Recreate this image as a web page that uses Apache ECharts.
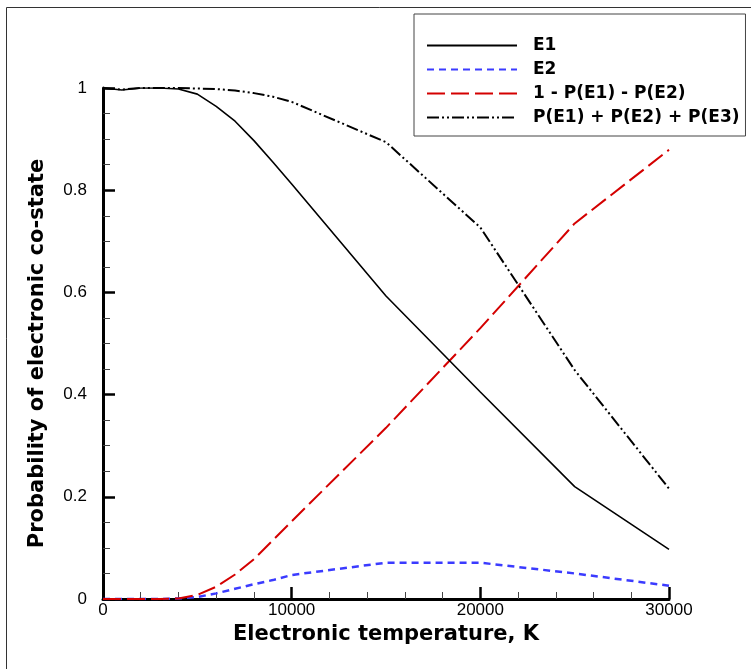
<!DOCTYPE html>
<html>
<head>
<meta charset="utf-8">
<script src="https://cdn.jsdelivr.net/npm/echarts@6/dist/echarts.min.js"></script>
<style>
html,body{margin:0;padding:0;background:#fff;}
#chart{width:751px;height:669px;}
</style>
</head>
<body>
<div id="chart"></div>
<script>
// Data
var temps = [0, 1000, 2000, 3000, 4000, 5000, 6000, 7000, 8000, 9000, 10000, 15000, 20000, 25000, 30000];
var e1 = [1.0, 0.996, 1.0, 1.0, 0.998, 0.988, 0.964, 0.935, 0.897, 0.855, 0.812, 0.593, 0.405, 0.22, 0.097];
var e2 = [0, 0, 0, 0, 0.001, 0.004, 0.011, 0.02, 0.029, 0.037, 0.047, 0.071, 0.071, 0.05, 0.026];
var rest = [0, 0, 0, 0, 0.001, 0.008, 0.024, 0.048, 0.078, 0.115, 0.152, 0.335, 0.53, 0.735, 0.879];
var sum3 = [1.0, 0.997, 1.0, 1.0, 1.0, 0.999, 0.998, 0.995, 0.99, 0.983, 0.973, 0.894, 0.727, 0.448, 0.216];
var seriesNames = ['E1', 'E2', '1 - P(E1) - P(E2)', 'P(E1) + P(E2) + P(E3)'];
var xTitle = 'Electronic temperature, K';
var yTitle = 'Probability of electronic co-state';

function pairs(ys) { return temps.map(function (t, i) { return [t, ys[i]]; }); }

var chart = echarts.init(document.getElementById('chart'));
var tickFont = 'Liberation Sans';
var boldFont = 'DejaVu Sans';

chart.setOption({
  animation: false,
  backgroundColor: '#fff',
  graphic: [{
    type: 'rect', z: -10, silent: true,
    shape: { x: 6.5, y: 7.5, width: 900, height: 900 },
    style: { fill: 'none', stroke: '#333', lineWidth: 1 }
  }],
  grid: { left: 103, top: 88, right: 82, bottom: 70, containLabel: false },
  legend: {
    orient: 'vertical', left: 414, top: 14,
    padding: [23, 6, 10, 12],
    itemWidth: 90, itemHeight: 14, itemGap: 7,
    borderColor: '#444', borderWidth: 1, backgroundColor: '#fff',
    itemStyle: { color: 'rgba(0,0,0,0)', borderWidth: 0, opacity: 0 },
    textStyle: { fontFamily: boldFont, fontWeight: 'bold', fontSize: 17, color: '#000', padding: [0, 0, 0, 11] },
    data: seriesNames
  },
  xAxis: {
    type: 'value', min: 0, max: 30000, interval: 10000,
    name: xTitle, nameLocation: 'middle', nameGap: 24,
    nameTextStyle: { fontFamily: boldFont, fontWeight: 'bold', fontSize: 21, color: '#000' },
    axisLine: { show: true, onZero: false, lineStyle: { color: '#000', width: 3 } },
    axisTick: { show: true, inside: true, length: 12, lineStyle: { color: '#000', width: 2.5 } },
    minorTick: { show: true, splitNumber: 5, length: 7, lineStyle: { color: '#444', width: 1 } },
    axisLabel: { margin: 3, fontFamily: tickFont, fontSize: 17, color: '#000', formatter: function (v) { return String(v); } },
    splitLine: { show: false }
  },
  yAxis: {
    type: 'value', min: 0, max: 1, interval: 0.2,
    name: yTitle, nameLocation: 'middle', nameGap: 55,
    nameTextStyle: { fontFamily: boldFont, fontWeight: 'bold', fontSize: 21, color: '#000', padding: [0, 20, 0, 0] },
    axisLine: { show: true, onZero: false, lineStyle: { color: '#000', width: 3 } },
    axisTick: { show: true, inside: true, length: 12, lineStyle: { color: '#000', width: 2.5 } },
    minorTick: { show: true, splitNumber: 4, length: 7, lineStyle: { color: '#444', width: 1 } },
    axisLabel: { margin: 16, fontFamily: tickFont, fontSize: 17, color: '#000' },
    splitLine: { show: false }
  },
  series: [
    { name: seriesNames[0], type: 'line', data: pairs(e1), symbol: 'none', z: 4,
      lineStyle: { color: '#000', width: 1.6, type: 'solid' }, itemStyle: { color: '#000' } },
    { name: seriesNames[1], type: 'line', data: pairs(e2), symbol: 'none', z: 3,
      lineStyle: { color: '#3b3bff', width: 2.5, type: [7, 5] }, itemStyle: { color: '#3b3bff' } },
    { name: seriesNames[2], type: 'line', data: pairs(rest), symbol: 'none', z: 3,
      lineStyle: { color: '#d40000', width: 2, type: [18, 6] }, itemStyle: { color: '#d40000' } },
    { name: seriesNames[3], type: 'line', data: pairs(sum3), symbol: 'none', z: 3,
      lineStyle: { color: '#000', width: 2, type: [12, 3, 2, 3, 2, 3] }, itemStyle: { color: '#000' } }
  ]
});
</script>
</body>
</html>
